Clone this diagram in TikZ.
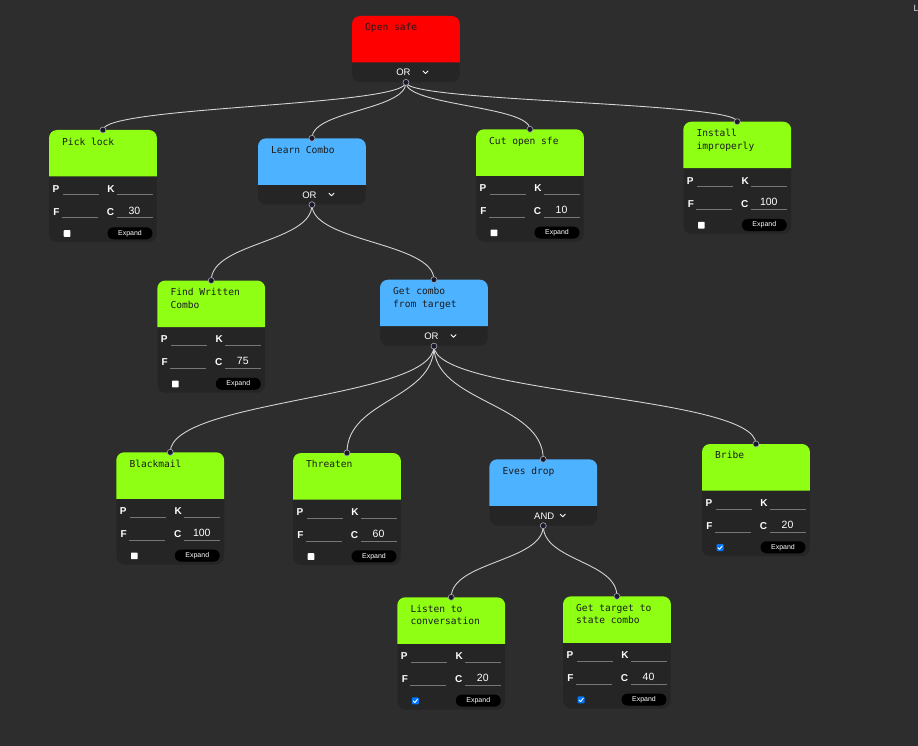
\documentclass[tikz,border=0pt]{standalone}
\usepackage{fontspec}
\setmainfont{Liberation Sans}
\newfontfamily\monofont{DejaVu Sans Mono}
\usetikzlibrary{calc}

\definecolor{canvasbg}{RGB}{45,45,45}
\definecolor{cardbody}{RGB}{37,37,37}
\definecolor{rootred}{RGB}{255,0,0}
\definecolor{leafgreen}{RGB}{143,255,20}
\definecolor{gateblue}{RGB}{77,178,255}
\definecolor{titleink}{RGB}{28,28,28}
\definecolor{linkgray}{RGB}{212,212,212}
\definecolor{fieldline}{RGB}{118,118,118}
\definecolor{handlefill}{RGB}{26,25,43}
\definecolor{handlerim}{RGB}{170,170,180}
\definecolor{checkblue}{RGB}{0,117,255}

\tikzset{
  cardbase/.style={draw=none, fill=cardbody, rounded corners=8pt,
    minimum width=107.5pt, inner sep=0pt, anchor=north west},
  cardtitle/.style={anchor=north west, inner sep=0pt, align=left, text=titleink,
    font=\monofont\fontsize{9.6}{12.6}\selectfont},
  fieldlbl/.style={inner sep=0pt, text=white, font=\bfseries\fontsize{10}{12}\selectfont},
  fieldval/.style={inner sep=0pt, text=white, font=\fontsize{10.5}{12}\selectfont},
  uline/.style={draw=fieldline, line width=1pt},
  expandbtn/.style={fill=black, text=white, rounded corners=6pt, inner sep=0pt,
    minimum width=45pt, minimum height=12pt, font=\fontsize{7}{8}\selectfont},
  gatelbl/.style={inner sep=0pt, text=white, font=\fontsize{9.5}{11}\selectfont},
  chev/.style={draw=white, line width=0.9pt, line cap=round, line join=round},
  link/.style={draw=linkgray, line width=0.9pt},
  handle/.style={fill=handlefill, draw=handlerim, line width=0.6pt},
}

% coloured header of a card: name, colour (top corners rounded, bottom square)
\newcommand\cardheader[2]{%
  \fill[#2] ([yshift=-46.5pt]#1.north west) [rounded corners=8pt]
    -- (#1.north west) -- (#1.north east) [sharp corners]
    -- ([yshift=-46.5pt]#1.north east) -- cycle;
}

% card with a P/K/F/C form: name, x, y, title, cost, ticked (0/1)
\newcommand\leafcard[6]{%
  \node[cardbase, minimum height=112pt] (#1) at (#2,#3) {};
  \cardheader{#1}{leafgreen}
  \node[cardtitle] at ([xshift=13pt,yshift=-7.5pt]#1.north west) {#4};
  \node[fieldlbl] at ([xshift=7pt,yshift=-59pt]#1.north west) {P};
  \draw[uline] ([xshift=14pt,yshift=-65pt]#1.north west) -- ++(35.5pt,0pt);
  \node[fieldlbl] at ([xshift=62pt,yshift=-59pt]#1.north west) {K};
  \draw[uline] ([xshift=68pt,yshift=-65pt]#1.north west) -- ++(36pt,0pt);
  \node[fieldlbl] at ([xshift=7.5pt,yshift=-82pt]#1.north west) {F};
  \draw[uline] ([xshift=13pt,yshift=-88pt]#1.north west) -- ++(35.5pt,0pt);
  \node[fieldlbl] at ([xshift=61.5pt,yshift=-82pt]#1.north west) {C};
  \draw[uline] ([xshift=68pt,yshift=-88pt]#1.north west) -- ++(36pt,0pt);
  \node[fieldval] at ([xshift=85.5pt,yshift=-80.5pt]#1.north west) {#5};
  \ifnum#6=1
    \fill[checkblue, rounded corners=1pt] ([xshift=14.5pt,yshift=-100pt]#1.north west)
      rectangle ++(7pt,-7pt);
    \draw[white, line width=0.9pt, line cap=round, line join=round]
      ([xshift=16pt,yshift=-103.7pt]#1.north west) -- ++(1.6pt,-1.6pt) -- ++(2.6pt,3.4pt);
  \else
    \fill[white, rounded corners=0.6pt] ([xshift=14.7pt,yshift=-100.2pt]#1.north west)
      rectangle ++(6.6pt,-6.6pt);
  \fi
  \node[expandbtn] at ([xshift=81pt,yshift=-103.3pt]#1.north west) {Expand};
}

% card ending in a gate selector: name, x, y, colour, title, gate, label offset
\newcommand\gatecard[7]{%
  \node[cardbase, minimum height=66pt] (#1) at (#2,#3) {};
  \cardheader{#1}{#4}
  \node[cardtitle] at ([xshift=13pt,yshift=-7.5pt]#1.north west) {#5};
  \node[gatelbl] at ([xshift=#7,yshift=-56.5pt]#1.north) {#6};
  \draw[chev] ([xshift=17pt,yshift=-55pt]#1.north) -- ++(2.5pt,-2.5pt) -- ++(2.5pt,2.5pt);
}

% curved connector from a parent's output to a child's input
\newcommand\linkcards[2]{%
  \path (#1.south) coordinate (ls) (#2.north) coordinate (lt)
        ($(ls)!0.5!(lt)$) coordinate (lm);
  \draw[link] (ls) .. controls (ls |- lm) and (lt |- lm) .. (lt);
}

\begin{document}
\begin{tikzpicture}[x=1pt,y=-1pt]
\fill[canvasbg] (0,0) rectangle (918,746);
\useasboundingbox (0,0) rectangle (918,746);

\gatecard{opensafe}{352}{16}{rootred}{Open safe}{OR}{-2.5pt}
\leafcard{picklock}{49}{130}{Pick lock}{30}{0}
\gatecard{learncombo}{258}{138.3}{gateblue}{Learn Combo}{OR}{-2.5pt}
\leafcard{cutopen}{476}{129.3}{Cut open sfe}{10}{0}
\leafcard{install}{683.3}{121.7}{Install\\improperly}{100}{0}
\leafcard{findwritten}{157.3}{280.5}{Find Written\\Combo}{75}{0}
\gatecard{getcombo}{380}{279.7}{gateblue}{Get combo\\from target}{OR}{-2.5pt}
\leafcard{blackmail}{116.3}{452.3}{Blackmail}{100}{0}
\leafcard{threaten}{293}{453}{Threaten}{60}{0}
\gatecard{evesdrop}{489.3}{459.3}{gateblue}{Eves drop}{AND}{1pt}
\leafcard{bribe}{702}{444}{Bribe}{20}{1}
\leafcard{listen}{397.3}{597.3}{Listen to\\conversation}{20}{1}
\leafcard{gettarget}{563}{596.3}{Get target to\\state combo}{40}{1}

\linkcards{opensafe}{picklock}
\linkcards{opensafe}{learncombo}
\linkcards{opensafe}{cutopen}
\linkcards{opensafe}{install}
\linkcards{learncombo}{findwritten}
\linkcards{learncombo}{getcombo}
\linkcards{getcombo}{blackmail}
\linkcards{getcombo}{threaten}
\linkcards{getcombo}{evesdrop}
\linkcards{getcombo}{bribe}
\linkcards{evesdrop}{listen}
\linkcards{evesdrop}{gettarget}

% connection handles
\foreach \n in {opensafe,learncombo,getcombo,evesdrop}
  \draw[handle] (\n.south) circle (3pt);
\foreach \n in {picklock,learncombo,cutopen,install,findwritten,getcombo,
                blackmail,threaten,evesdrop,bribe,listen,gettarget}
  \draw[handle] (\n.north) circle (3pt);

\node[anchor=west, inner sep=0pt, text={rgb,255:red,235;green,215;blue,240},
      font=\fontsize{9}{10}\selectfont] (cornermark) at (913.5,8.5) {L};
\end{tikzpicture}
\end{document}
